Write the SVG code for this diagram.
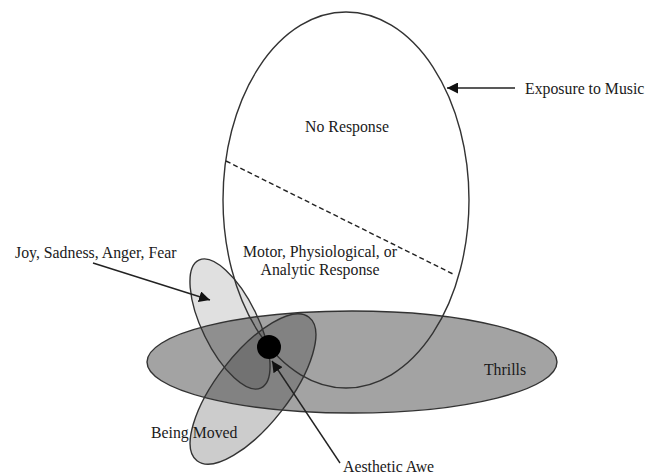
<svg xmlns="http://www.w3.org/2000/svg" width="648" height="474" viewBox="0 0 648 474">
<defs>
<marker id="ah" viewBox="0 0 10 10" refX="10" refY="5" markerWidth="11" markerHeight="11" markerUnits="userSpaceOnUse" orient="auto">
<path d="M0,0 L10,5 L0,10 z" fill="#111"/>
</marker>
<style>
.lbl{font-family:"Liberation Serif","Times New Roman",serif;font-size:15.8px;fill:#1a1a1a}
.ol{fill:none;stroke:#333;stroke-width:1.4}
.ln{stroke:#222;stroke-width:1.4;fill:none}
</style>
</defs>
<rect width="648" height="474" fill="#fff"/>
<g id="fills">
<ellipse id="thrills-fill" cx="352" cy="362" rx="205" ry="51" fill="#000" fill-opacity="0.36"/>
<ellipse id="joy-fill" cx="230" cy="324" rx="71" ry="28" transform="rotate(64 230 324)" fill="#000" fill-opacity="0.12"/>
<ellipse id="moved-fill" cx="253" cy="389" rx="91" ry="36" transform="rotate(-52 253 389)" fill="#000" fill-opacity="0.2"/>
</g>
<g id="exposure">
<ellipse class="ol" cx="346" cy="200" rx="123" ry="188"/>
<line x1="226" y1="161" x2="455" y2="275" stroke="#222" stroke-width="1.4" stroke-dasharray="5,3"/>
<text class="lbl" x="347" y="132" text-anchor="middle">No Response</text>
<text class="lbl" x="320" y="257" text-anchor="middle">Motor, Physiological, or</text>
<text class="lbl" x="320" y="275" text-anchor="middle">Analytic Response</text>
<text class="lbl" x="525" y="94">Exposure to Music</text>
</g>
<g id="thrills">
<ellipse class="ol" cx="352" cy="362" rx="205" ry="51"/>
<text class="lbl" x="505" y="375" text-anchor="middle">Thrills</text>
</g>
<g id="joy">
<ellipse class="ol" cx="230" cy="324" rx="71" ry="28" transform="rotate(64 230 324)"/>
<text class="lbl" x="15" y="258">Joy, Sadness, Anger, Fear</text>
</g>
<g id="moved">
<ellipse class="ol" cx="253" cy="389" rx="91" ry="36" transform="rotate(-52 253 389)"/>
<text class="lbl" x="151" y="438">Being Moved</text>
</g>
<g id="awe">
<circle cx="269" cy="347" r="12" fill="#000"/>
<text class="lbl" x="343" y="472">Aesthetic Awe</text>
</g>
<g id="connectors">
<line class="ln" x1="515" y1="88" x2="447" y2="88" marker-end="url(#ah)"/>
<line class="ln" x1="93" y1="263" x2="210" y2="300" marker-end="url(#ah)"/>
<line class="ln" x1="340" y1="463" x2="272" y2="361" marker-end="url(#ah)"/>
</g>
</svg>
